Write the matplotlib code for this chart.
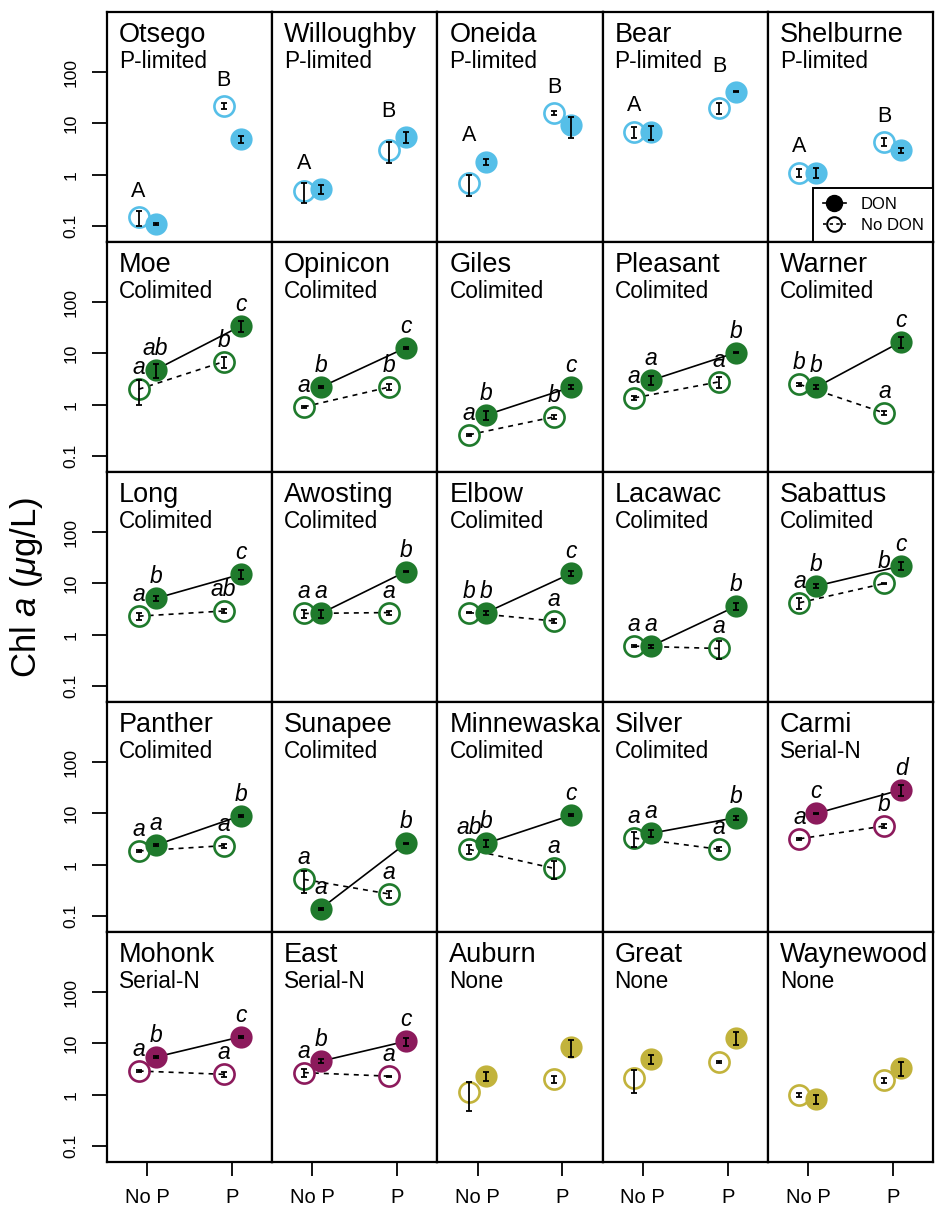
import matplotlib
matplotlib.use("Agg")
import matplotlib.pyplot as plt
from matplotlib.lines import Line2D

plt.rcParams["font.family"] = ["Liberation Sans", "DejaVu Sans"]
plt.rcParams["mathtext.fontset"] = "custom"
plt.rcParams["mathtext.rm"] = "Liberation Sans"
plt.rcParams["mathtext.it"] = "Liberation Sans:italic"

# ── data (Chl a, ug/L) ──────────────────────────────────────
lakes = ["Otsego", "Willoughby", "Oneida", "Bear", "Shelburne",
         "Moe", "Opinicon", "Giles", "Pleasant", "Warner",
         "Long", "Awosting", "Elbow", "Lacawac", "Sabattus",
         "Panther", "Sunapee", "Minnewaska", "Silver", "Carmi",
         "Mohonk", "East", "Auburn", "Great", "Waynewood"]
limitation = ["P-limited"] * 5 + ["Colimited"] * 14 + ["Serial-N"] * 3 + ["None"] * 3

# no DON / no P
ctrl = [0.15, 0.48, 0.69, 6.9, 1.1,
        2.0, 0.91, 0.26, 1.36, 2.5,
        2.3, 2.6, 2.7, 0.60, 4.2,
        1.86, 0.52, 2.0, 3.3, 3.2,
        2.9, 2.7, 1.14, 2.1, 1.0]
ctrl_se = [0.05, 0.2, 0.3, 1.7, 0.2,
           1.0, 0.04, 0.01, 0.15, 0.2,
           0.35, 0.5, 0.1, 0.02, 1.0,
           0.08, 0.24, 0.4, 1.1, 0.1,
           0.15, 0.5, 0.65, 1.0, 0.1]
# DON / no P
don = [0.11, 0.52, 1.8, 6.8, 1.1,
       4.8, 2.2, 0.63, 3.0, 2.2,
       5.1, 2.6, 2.7, 0.60, 8.9,
       2.4, 0.14, 2.6, 4.1, 10.0,
       5.4, 4.5, 2.3, 4.9, 0.82]
don_se = [0.005, 0.1, 0.25, 2.0, 0.25,
          1.5, 0.1, 0.12, 0.6, 0.2,
          0.5, 0.5, 0.25, 0.04, 0.8,
          0.1, 0.006, 0.4, 0.6, 0.4,
          0.25, 0.4, 0.45, 1.0, 0.15]
# no DON / P
p_only = [22, 3.0, 16, 20, 4.4,
          6.9, 2.2, 0.58, 2.8, 0.69,
          2.9, 2.7, 1.85, 0.54, 10.0,
          2.35, 0.27, 0.85, 2.0, 5.7,
          2.5, 2.3, 2.0, 4.3, 1.9]
p_only_se = [3.0, 1.3, 1.5, 5.0, 0.7,
             1.8, 0.3, 0.05, 0.7, 0.07,
             0.3, 0.25, 0.15, 0.2, 0.4,
             0.2, 0.04, 0.33, 0.18, 0.5,
             0.25, 0.05, 0.3, 0.2, 0.2]
# DON / P
don_p = [4.9, 5.4, 9.3, 41, 3.0,
         34, 12.9, 2.2, 10.4, 17,
         15, 17, 15.6, 3.6, 22,
         9.0, 2.6, 9.2, 8.3, 29,
         13.4, 11, 8.4, 12.9, 3.3]
don_p_se = [0.7, 1.3, 4.0, 1.0, 0.3,
            8.0, 0.5, 0.2, 0.4, 4.0,
            3.0, 0.6, 1.5, 0.5, 4.0,
            0.4, 0.1, 0.4, 0.7, 7.0,
            0.6, 2.0, 3.0, 3.5, 1.0]

# significance letters: no DON/no P, DON/no P, no DON/P, DON/P
let_ctrl = ["A", "A", "A", "A", "A",
            "a", "a", "a", "a", "b",
            "a", "a", "b", "a", "a",
            "a", "a", "ab", "a", "a",
            "a", "a", "", "", ""]
let_don = ["", "", "", "", "",
           "ab", "b", "b", "a", "b",
           "b", "a", "b", "a", "b",
           "a", "a", "b", "a", "c",
           "b", "b", "", "", ""]
let_p = ["B", "B", "B", "B", "B",
         "b", "b", "b", "a", "a",
         "ab", "a", "a", "a", "b",
         "a", "a", "a", "a", "b",
         "a", "a", "", "", ""]
let_don_p = ["", "", "", "", "",
             "c", "c", "c", "b", "c",
             "c", "b", "c", "b", "c",
             "b", "b", "c", "b", "d",
             "c", "c", "", "", ""]

colors = {"P-limited": "#56BFE8", "Colimited": "#1F7A2C",
          "Serial-N": "#8C1A5C", "None": "#C2B33C"}

# ── layout (pixels) ─────────────────────────────────────────
W, H = 935, 1207
left, top, right, bottom = 107, 12, 933, 1162
pw = (right - left) / 5
ph = (bottom - top) / 5

fig = plt.figure(figsize=(W / 100, H / 100), dpi=100)

for i, lake in enumerate(lakes):
    r, c = divmod(i, 5)
    ax = fig.add_axes([(left + c * pw) / W, 1 - (top + (r + 1) * ph) / H,
                       pw / W, ph / H])
    lim = limitation[i]
    col = colors[lim]

    ax.set_yscale("log")
    ax.set_xlim(0.528, 2.472)
    ax.set_ylim(10 ** -1.31, 10 ** 3.17)

    if lim in ("Colimited", "Serial-N"):
        ax.plot([1.1, 2.1], [don[i], don_p[i]], color="black", lw=1.2, zorder=1)
        ax.plot([0.9, 1.9], [ctrl[i], p_only[i]], color="black", lw=1.2,
                ls=(0, (3, 3)), zorder=1)

    ax.plot([0.9, 1.9], [ctrl[i], p_only[i]], "o", ls="none", ms=14.5,
            mfc="none", mec=col, mew=1.9, zorder=2)
    ax.plot([1.1, 2.1], [don[i], don_p[i]], "o", ls="none", ms=16,
            mfc=col, mec=col, mew=0, zorder=3)

    ax.errorbar([0.9, 1.9], [ctrl[i], p_only[i]], yerr=[ctrl_se[i], p_only_se[i]],
                fmt="none", ecolor="black", elinewidth=1.3, capsize=2.3,
                capthick=1.3, zorder=4)
    ax.errorbar([1.1, 2.1], [don[i], don_p[i]], yerr=[don_se[i], don_p_se[i]],
                fmt="none", ecolor="black", elinewidth=1.3, capsize=2.3,
                capthick=1.3, zorder=4)

    # letters
    if lim == "P-limited":
        for x, a, b, lab in [(0.9, ctrl[i], don[i], let_ctrl[i]),
                             (1.9, p_only[i], don_p[i], let_p[i])]:
            ax.annotate(lab, (x, max(a, b)), xytext=(0, 18.5),
                        textcoords="offset points", ha="center", va="center",
                        fontsize=15.5)
    else:
        for x, y, lab in [(0.9, ctrl[i], let_ctrl[i]), (1.1, don[i], let_don[i]),
                          (1.9, p_only[i], let_p[i]), (2.1, don_p[i], let_don_p[i])]:
            if lab:
                ax.annotate(lab, (x, y), xytext=(0, 15.5),
                            textcoords="offset points", ha="center",
                            va="center", fontsize=16.5, style="italic")

    ax.text(12 / pw, 1 - 10 / ph, lake, transform=ax.transAxes,
            fontsize=19.5, ha="left", va="top")
    ax.text(12 / pw, 1 - 38 / ph, lim, transform=ax.transAxes,
            fontsize=16.3, ha="left", va="top")

    for s in ax.spines.values():
        s.set_linewidth(1.6)

    ax.minorticks_off()
    if c == 0:
        ax.set_yticks([0.1, 1, 10, 100])
        ax.set_yticklabels(["0.1", "1", "10", "100"], rotation=90, va="center")
        ax.tick_params(axis="y", length=10.5, width=1.3, pad=10, labelsize=12.5)
    else:
        ax.set_yticks([])
    if r == 4:
        ax.set_xticks([1, 2])
        ax.set_xticklabels(["No P", "P"])
        ax.tick_params(axis="x", length=10, width=1.3, pad=9, labelsize=14.5)
    else:
        ax.set_xticks([])

    if lake == "Shelburne":
        handles = [Line2D([], [], color="black", lw=1.2, marker="o", ms=11.5,
                          mfc="black", mec="black"),
                   Line2D([], [], color="black", lw=1.2, ls=(0, (2, 2)),
                          marker="o", ms=10.5, mfc="none", mec="black", mew=1.5)]
        leg = ax.legend(handles, ["DON", "No DON"], loc="lower right",
                        borderaxespad=0, fontsize=12, frameon=True,
                        fancybox=False, framealpha=1, edgecolor="black",
                        handlelength=1.4, handletextpad=0.9,
                        borderpad=0.55, labelspacing=0.35)
        leg.get_frame().set_linewidth(1.4)
        leg.set_zorder(10)

fig.text(27 / W, 1 - (top + bottom) / 2 / H, r"Chl $a$ ($\mu$g/L)",
         rotation=90, ha="center", va="center", fontsize=25)

fig.savefig("out.png", dpi=100)
